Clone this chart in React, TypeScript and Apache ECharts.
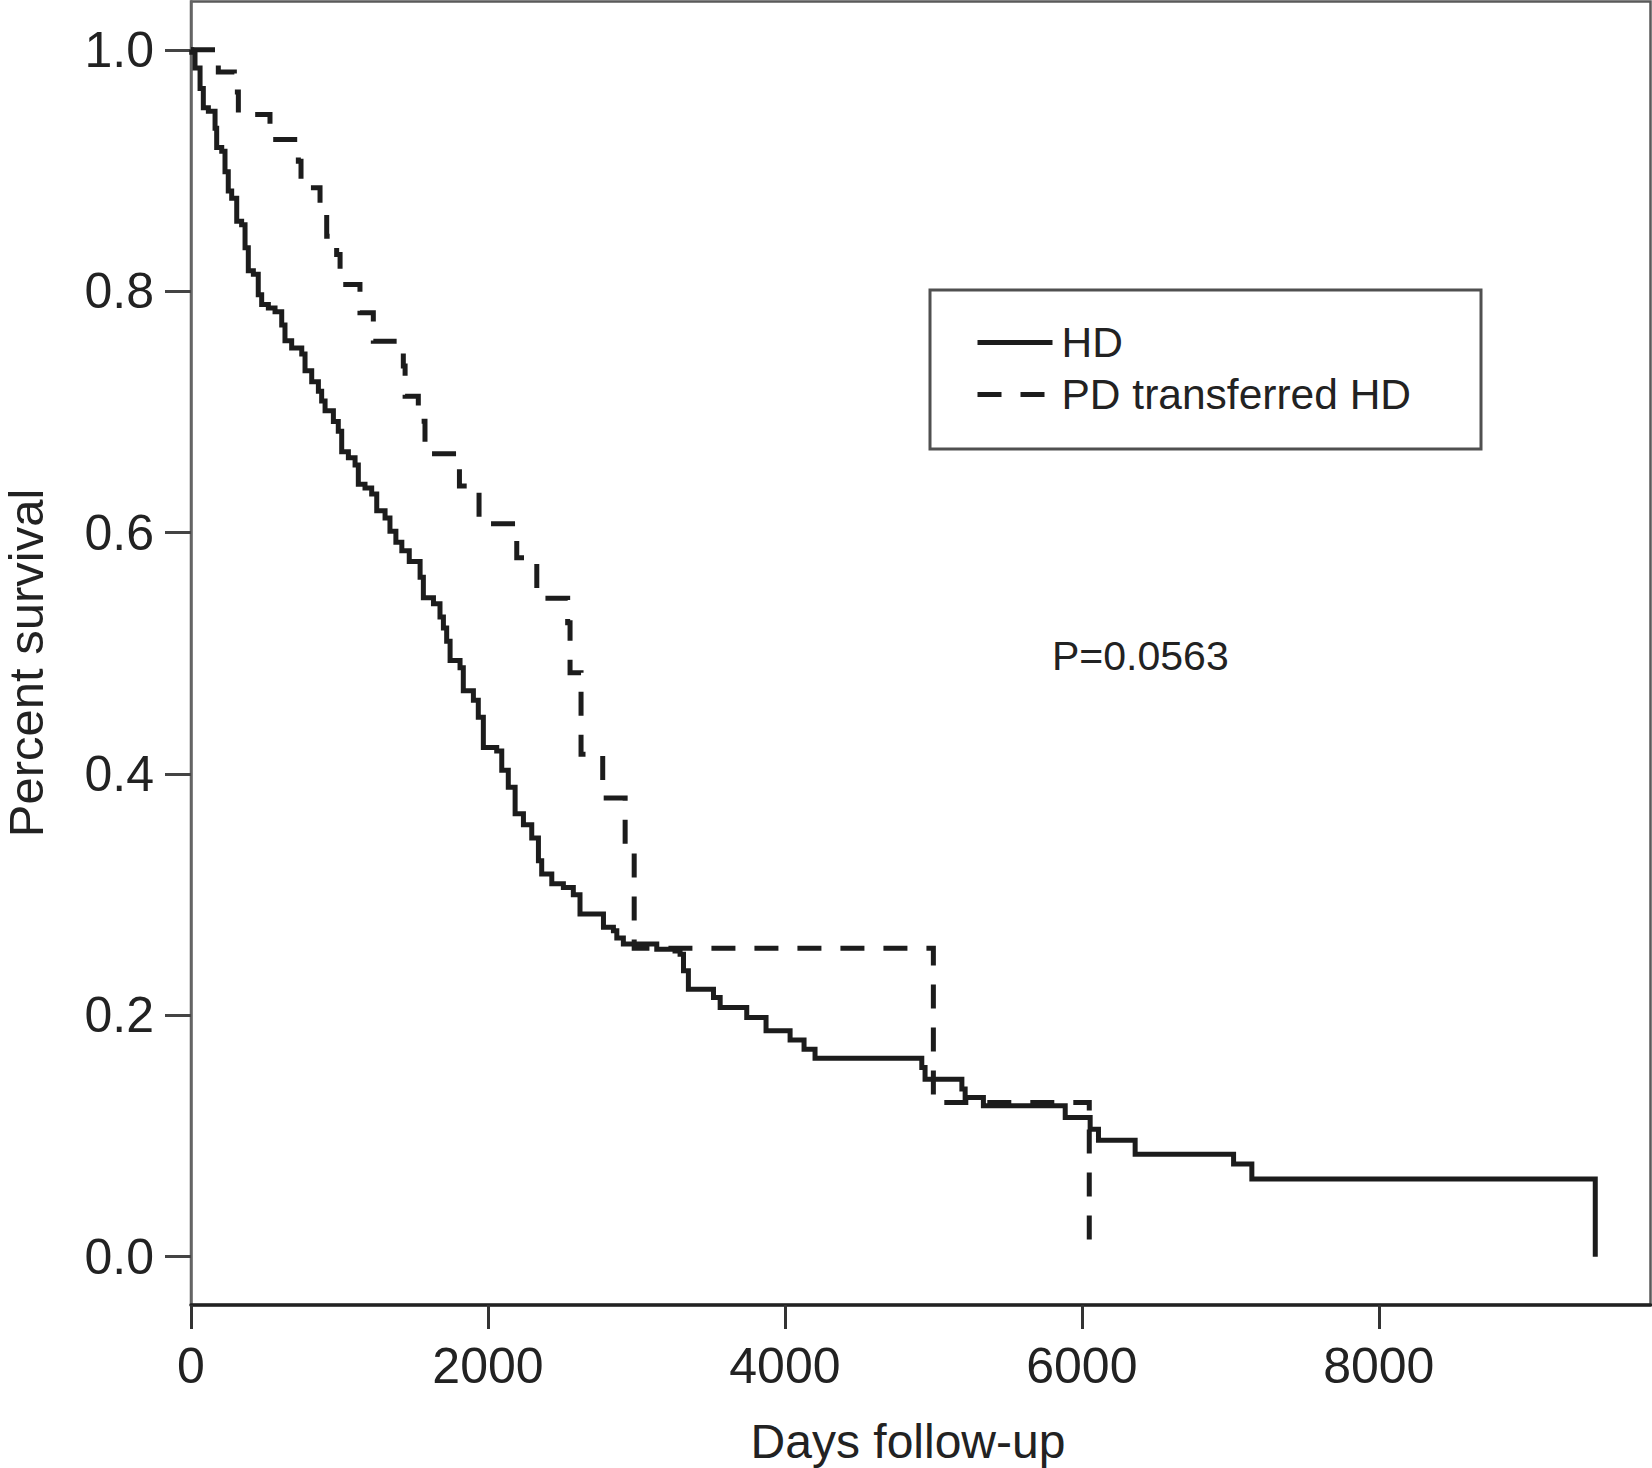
import React, { useEffect, useRef } from "react";
import * as echarts from "echarts";

const seriesNames = ["HD", "PD transferred HD"];
const xTicks = [0, 2000, 4000, 6000, 8000];
const yTicks = [0, 0.2, 0.4, 0.6, 0.8, 1.0];
const xTitle = "Days follow-up";
const yTitle = "Percent survival";
const pValueText = "P=0.0563";

const hdDays = [0, 5, 27, 61, 83, 117, 162, 173, 207, 229, 251, 274, 308, 341, 364, 386, 420, 453, 476, 521, 566, 611, 633, 678, 746, 768, 813, 858, 880, 903, 959, 992, 1015, 1060, 1105, 1127, 1172, 1217, 1251, 1307, 1340, 1380, 1420, 1470, 1543, 1565, 1633, 1677, 1700, 1722, 1745, 1812, 1834, 1902, 1935, 1969, 2059, 2093, 2137, 2183, 2239, 2295, 2340, 2362, 2430, 2508, 2575, 2620, 2778, 2845, 2868, 2912, 3137, 3260, 3294, 3317, 3350, 3519, 3564, 3743, 3873, 4035, 4129, 4203, 4922, 4944, 5192, 5214, 5337, 5888, 6056, 6112, 6359, 7022, 7145, 9458];
const hdSurv = [1.0, 0.998, 0.985, 0.968, 0.952, 0.949, 0.935, 0.919, 0.916, 0.899, 0.883, 0.877, 0.858, 0.855, 0.836, 0.817, 0.814, 0.797, 0.789, 0.786, 0.783, 0.772, 0.759, 0.753, 0.748, 0.734, 0.725, 0.717, 0.709, 0.701, 0.692, 0.684, 0.667, 0.662, 0.656, 0.64, 0.637, 0.632, 0.618, 0.612, 0.601, 0.592, 0.585, 0.576, 0.563, 0.546, 0.541, 0.53, 0.521, 0.51, 0.494, 0.488, 0.469, 0.461, 0.447, 0.422, 0.419, 0.403, 0.389, 0.367, 0.358, 0.347, 0.328, 0.317, 0.309, 0.306, 0.3, 0.284, 0.273, 0.27, 0.264, 0.259, 0.2548, 0.2534, 0.2507, 0.2369, 0.2217, 0.2148, 0.2065, 0.1982, 0.1872, 0.1795, 0.172, 0.1645, 0.1568, 0.1471, 0.1389, 0.1319, 0.125, 0.1154, 0.1057, 0.0966, 0.085, 0.0768, 0.0643, 0];

const pdDays = [0, 184, 292, 319, 532, 723, 741, 869, 914, 981, 1004, 1138, 1228, 1430, 1442, 1531, 1576, 1808, 1940, 2194, 2329, 2537, 2553, 2627, 2773, 2924, 2985, 5000, 6050];
const pdSurv = [1.0, 0.9816, 0.9651, 0.9463, 0.9256, 0.9077, 0.8856, 0.8663, 0.8456, 0.8304, 0.8055, 0.7821, 0.7586, 0.7379, 0.713, 0.6923, 0.6653, 0.6385, 0.6073, 0.5791, 0.5455, 0.5253, 0.4839, 0.4163, 0.38, 0.3418, 0.2555, 0.1278, 0];

const FONT = '"Liberation Sans", Arial, Helvetica, sans-serif';
const INK = "#1c1c1c";

export default function App() {
  const ref = useRef<HTMLDivElement>(null);
  useEffect(() => {
    if (!ref.current) return;
    const chart = echarts.init(ref.current, null, { renderer: "svg" });
    const zip = (xs: number[], ys: number[]) => xs.map((x, i) => [x, ys[i]]);
    chart.setOption({
      animation: false,
      backgroundColor: "#ffffff",
      grid: {
        left: 191,
        right: 1.5,
        top: 1.5,
        bottom: 163,
        show: true,
        borderColor: "#5a5a5a",
        borderWidth: 2.5,
      },
      xAxis: {
        type: "value",
        min: 0,
        max: 9830,
        axisLine: { show: true, onZero: false, lineStyle: { color: "#222", width: 3.5 } },
        axisTick: { show: true, length: 24, customValues: xTicks, lineStyle: { color: "#333", width: 3 } },
        axisLabel: {
          customValues: xTicks,
          margin: 36,
          fontSize: 50,
          color: "#222",
          fontFamily: FONT,
          formatter: (v: number) => String(v),
        },
        splitLine: { show: false },
      },
      yAxis: {
        type: "value",
        min: -0.04,
        max: 1.04,
        axisLine: { show: true, onZero: false, lineStyle: { color: "#666", width: 2.5 } },
        axisTick: { show: true, length: 26, customValues: yTicks, lineStyle: { color: "#444", width: 3 } },
        axisLabel: {
          customValues: yTicks,
          margin: 37,
          fontSize: 50,
          color: "#222",
          fontFamily: FONT,
          formatter: (v: number) => v.toFixed(1),
        },
        splitLine: { show: false },
      },
      legend: {
        show: true,
        orient: "vertical",
        left: 975,
        top: 321,
        padding: 0,
        itemWidth: 75,
        itemHeight: 20,
        itemGap: 9,
        selectedMode: false,
        data: seriesNames,
        itemStyle: { opacity: 0, color: "rgba(0,0,0,0)", borderWidth: 0 },
        lineStyle: { width: 5 },
        textStyle: { fontSize: 42.5, color: "#222", fontFamily: FONT, padding: [0, 0, 0, 4] },
      },
      series: [
        {
          name: seriesNames[0],
          type: "line",
          step: "end",
          symbol: "none",
          data: zip(hdDays, hdSurv),
          lineStyle: { color: INK, width: 5, join: "miter", cap: "butt" },
          itemStyle: { color: INK },
        },
        {
          name: seriesNames[1],
          type: "line",
          step: "end",
          symbol: "none",
          data: zip(pdDays, pdSurv),
          lineStyle: { color: INK, width: 5, type: [24, 19], join: "miter", cap: "butt" },
          itemStyle: { color: INK },
        },
      ],
      graphic: [
        {
          type: "rect",
          shape: { x: 930, y: 290, width: 551, height: 159 },
          style: { fill: "none", stroke: "#505050", lineWidth: 3 },
        },
        {
          type: "text",
          x: 1052,
          y: 656,
          style: { text: pValueText, fontSize: 41, fontFamily: FONT, fill: "#222", align: "left", verticalAlign: "middle" },
        },
        {
          type: "text",
          x: 908,
          y: 1441,
          style: { text: xTitle, fontSize: 48, fontFamily: FONT, fill: "#222", align: "center", verticalAlign: "middle" },
        },
        {
          type: "text",
          x: 26,
          y: 663,
          rotation: Math.PI / 2,
          style: {
            text: yTitle,
            fontSize: 49,
            lineHeight: 49,
            fontFamily: FONT,
            fill: "#222",
            align: "center",
            verticalAlign: "middle",
          },
        },
      ],
    });
    return () => chart.dispose();
  }, []);
  return (
    <div
      ref={ref}
      style={{ position: "absolute", left: 0, top: 0, width: 1652, height: 1468, background: "#fff" }}
    />
  );
}
